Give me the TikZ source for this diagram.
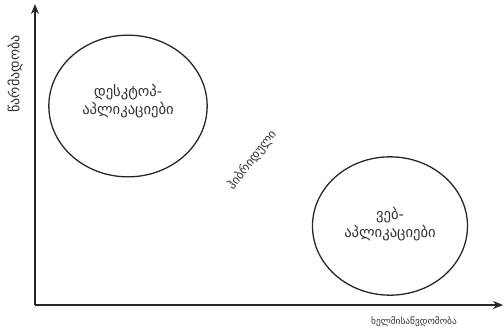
\documentclass[tikz,border=0pt]{standalone}
\usepackage{fontspec}
\setmainfont{DejaVu Sans}
\usetikzlibrary{arrows.meta, positioning, shapes.geometric}

\begin{document}
\begin{tikzpicture}[
    x=0.03cm, y=-0.03cm,
    every node/.style={font=\small},
    arrow/.style={-{Stealth[length=3mm, width=2.4mm]}, very thick, black!85},
    group/.style={draw, ellipse, line width=1.1pt, black!85, inner sep=0pt},
    label/.style={font=\small, text=black!80},
    inside/.style={font=\fontsize{12.5}{15}\selectfont, text=black!80, align=center}
]
\useasboundingbox (0,0) rectangle (504,334);

% ============ AXES ============
\coordinate (origin) at (35, 305);
\coordinate (ytip) at (35, 4);
\coordinate (xtip) at (503, 305);
\draw[arrow] (origin) -- (ytip);
\draw[arrow] (origin) -- (xtip);

\node[label, font=\fontsize{12}{14}\selectfont, rotate=90] (perf) at (15, 74) {წარმადობა};
\node[label, font=\footnotesize] (access) at (414, 322) {ხელმისაწვდომობა};

% ============ GROUPS ============
\node[group, minimum width=4.75cm, minimum height=4.25cm] (desktop) at (128, 106) {};
\node[inside] (desktoptext) at (128, 101) {დესკტოპ-\\აპლიკაციები};

\node[group, minimum width=4.65cm, minimum height=4.15cm] (web) at (390, 226) {};
\node[inside] (webtext) at (390, 224) {ვებ-\\აპლიკაციები};

% ============ HYBRID ============
\node[label, font=\fontsize{10.5}{12}\selectfont, rotate=52] (hybrid) at (252, 160) {ჰიბრიდული};

\end{tikzpicture}
\end{document}
